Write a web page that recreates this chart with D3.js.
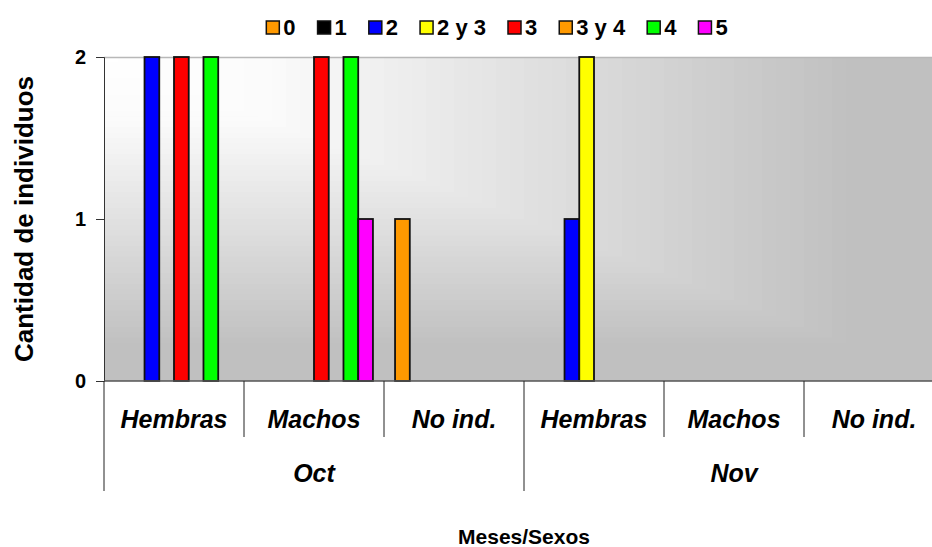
<!DOCTYPE html>
<html>
<head>
<meta charset="utf-8">
<script src="https://cdn.jsdelivr.net/npm/d3@7"></script>
<style>
	body { margin: 0; background: #fff; }
	svg { display: block; font-family: 'Liberation Sans', Arial, sans-serif; font-weight: bold; }
</style>
</head>
<body>
<svg id="chart" width="932" height="547"></svg>
<script>
const MONTHS = ['Oct', 'Nov'];
const SEXES = ['Hembras', 'Machos', 'No ind.'];
const SERIES = ['0', '1', '2', '2 y 3', '3', '3 y 4', '4', '5'];
const COLORS = ['#ff9900', '#000000', '#0000ff', '#ffff00', '#ff0000', '#ff9900', '#00ff00', '#ff00ff'];
// one row per series, columns: Oct H, Oct M, Oct N, Nov H, Nov M, Nov N
const VALUES = [
	[0, 0, 1, 0, 0, 0],
	[0, 0, 0, 0, 0, 0],
	[2, 0, 0, 1, 0, 0],
	[0, 0, 0, 2, 0, 0],
	[2, 2, 0, 0, 0, 0],
	[0, 0, 0, 0, 0, 0],
	[2, 2, 0, 0, 0, 0],
	[0, 1, 0, 0, 0, 0]
];
const Y_TICKS = [0, 1, 2];

const LEFT = 104;
const RIGHT = 944;
const TOP = 57;
const BOTTOM = 381;

const svg = d3.select('#chart');

const cats = d3.cross(MONTHS, SEXES).map(d => d.join('|'));
const x0 = d3.scaleBand().domain(cats).range([LEFT, RIGHT]);
const xMonth = d3.scaleBand().domain(MONTHS).range([LEFT, RIGHT]);
const x1 = d3.scaleBand().domain(SERIES).range([0, x0.bandwidth()]).paddingInner(0).paddingOuter(0.75);
const y = d3.scaleLinear().domain([0, 2]).range([BOTTOM, TOP]);
const shade = d3.scaleLinear().domain([0, 0.2, 0.9, 1]).range(['#ffffff', '#fbfbfb', '#c0c0c0', '#c0c0c0']);

// plot background: rectangular gradient from the top-left corner
const W = RIGHT - LEFT;
const H = BOTTOM - TOP;
const steps = d3.range(60, 0, -1).map(i => i / 60);
svg.append('g')
	.selectAll('rect')
	.data(steps)
	.join('rect')
	.attr('x', LEFT)
	.attr('y', TOP)
	.attr('width', s => s * W)
	.attr('height', s => s * H)
	.attr('fill', s => shade(s));

svg.append('line')
	.attr('x1', LEFT).attr('x2', RIGHT)
	.attr('y1', TOP + 0.5).attr('y2', TOP + 0.5)
	.attr('stroke', '#b8b8b8').attr('stroke-width', 1.5);

// bars
const bars = [];
SERIES.forEach((s, si) => {
	cats.forEach((c, ci) => {
		if (VALUES[si][ci] > 0) bars.push({ series: s, cat: c, value: VALUES[si][ci], color: COLORS[si] });
	});
});

svg.append('g')
	.selectAll('rect')
	.data(bars)
	.join('rect')
	.attr('x', d => x0(d.cat) + x1(d.series))
	.attr('y', d => y(d.value))
	.attr('width', x1.bandwidth())
	.attr('height', d => y(0) - y(d.value))
	.attr('fill', d => d.color)
	.attr('stroke', '#111')
	.attr('stroke-width', 1.8);

// y axis
const axisY = d3.axisLeft(y).tickValues(Y_TICKS).tickFormat(d3.format('d')).tickSize(8).tickPadding(10);
const gy = svg.append('g')
	.attr('transform', `translate(${LEFT}, 0)`)
	.call(axisY);
gy.select('.domain').attr('stroke', '#333');
gy.selectAll('.tick line').attr('stroke', '#333');
gy.selectAll('.tick text')
	.attr('font-size', 20)
	.attr('font-family', 'Liberation Sans, Arial, sans-serif')
	.attr('font-weight', 'bold')
	.attr('fill', '#000');

// x axis: inner level
svg.append('line')
	.attr('x1', LEFT).attr('x2', RIGHT)
	.attr('y1', BOTTOM).attr('y2', BOTTOM)
	.attr('stroke', '#555').attr('stroke-width', 1.5);

svg.append('g')
	.selectAll('line')
	.data(cats.filter(c => c.split('|')[1] !== SEXES[0]))
	.join('line')
	.attr('x1', c => x0(c)).attr('x2', c => x0(c))
	.attr('y1', BOTTOM).attr('y2', 437)
	.attr('stroke', '#222');

svg.append('g')
	.selectAll('line')
	.data(MONTHS.concat(['end']))
	.join('line')
	.attr('x1', m => m === 'end' ? RIGHT : xMonth(m))
	.attr('x2', m => m === 'end' ? RIGHT : xMonth(m))
	.attr('y1', BOTTOM).attr('y2', 491)
	.attr('stroke', '#222');

svg.append('g')
	.selectAll('text')
	.data(cats)
	.join('text')
	.attr('x', c => x0(c) + x0.bandwidth() / 2)
	.attr('y', 428)
	.attr('text-anchor', 'middle')
	.attr('font-size', 25)
	.attr('font-style', 'italic')
	.text(c => c.split('|')[1]);

svg.append('g')
	.selectAll('text')
	.data(MONTHS)
	.join('text')
	.attr('x', m => xMonth(m) + xMonth.bandwidth() / 2)
	.attr('y', 482)
	.attr('text-anchor', 'middle')
	.attr('font-size', 25)
	.attr('font-style', 'italic')
	.text(m => m);

// axis titles
svg.append('text')
	.attr('x', (LEFT + RIGHT) / 2)
	.attr('y', 544)
	.attr('text-anchor', 'middle')
	.attr('font-size', 21)
	.text('Meses/Sexos');

svg.append('text')
	.attr('transform', `translate(33, ${(TOP + BOTTOM) / 2}) rotate(-90)`)
	.attr('text-anchor', 'middle')
	.attr('font-size', 26)
	.text('Cantidad de individuos');

// legend
const legend = svg.append('g');
const items = legend.selectAll('g')
	.data(SERIES.map((s, i) => ({ s, color: COLORS[i] })))
	.join('g');
items.append('rect')
	.attr('width', 13).attr('height', 13)
	.attr('y', 21)
	.attr('fill', d => d.color)
	.attr('stroke', '#111').attr('stroke-width', 1.5);
items.append('text')
	.attr('x', 17)
	.attr('y', 35)
	.attr('font-size', 22)
	.text(d => d.s);
let cursor = 0;
items.each(function () {
	const g = d3.select(this);
	g.attr('transform', `translate(${cursor}, 0)`);
	cursor += 17 + g.select('text').node().getComputedTextLength() + 22;
});
const legendWidth = cursor - 22;
legend.attr('transform', `translate(${497 - legendWidth / 2}, 0)`);
</script>
</body>
</html>
